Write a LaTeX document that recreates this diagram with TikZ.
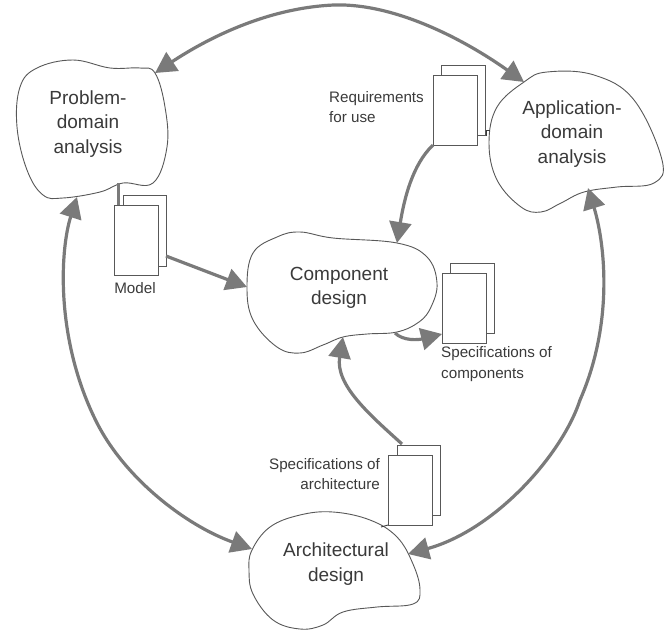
\documentclass[tikz,border=0pt]{standalone}
\usepackage{fontspec}
\setmainfont{Liberation Sans}
\usetikzlibrary{arrows.meta}
\definecolor{ink}{HTML}{3A3A3A}
\definecolor{flow}{HTML}{7A7A7A}
\tikzset{
  blob/.style={draw=ink!85,line width=0.9pt,fill=white},
  sheet/.style={draw=ink!85,line width=0.9pt,fill=white},
  flowline/.style={draw=flow,line width=3.2pt,-{Triangle[length=21pt,width=22pt]}},
  biflow/.style={draw=flow,line width=3.2pt,{Triangle[length=21pt,width=22pt]}-{Triangle[length=21pt,width=22pt]}},
  stub/.style={draw=flow,line width=3pt},
  thinstub/.style={draw=ink,line width=0.9pt},
  big/.style={text=ink,align=center,inner sep=0pt,font=\fontsize{19}{24.5}\selectfont},
  small/.style={text=ink,inner sep=0pt,font=\fontsize{15.2}{20.5}\selectfont}
}
\begin{document}
\begin{tikzpicture}[x=1pt,y=-1pt]
\useasboundingbox (0,0) rectangle (668,634);
% connector ends
\coordinate (pTop) at (155,73);
\coordinate (pBot) at (77,197);
\coordinate (aTop) at (524,82);
\coordinate (aBot) at (588,188);
\coordinate (cTop) at (397,243);
\coordinate (cLeft) at (247,287);
\coordinate (cBot) at (343,337);
\coordinate (cOut) at (395,333);
\coordinate (dLeft) at (252,549);
\coordinate (dRight) at (408,554);
\coordinate (modelOut) at (166,256);
\coordinate (reqOut) at (433,145);
\coordinate (archOut) at (402,444);
\coordinate (compIn) at (442,334);
\coordinate (topMid) at (334,5);
\coordinate (leftMid) at (97,423);
\coordinate (rightMid) at (580,400);
% blobs
\draw[blob] plot[smooth cycle,tension=0.65] coordinates {(155,73)(140,68)(110,68)(73,60)(37,68)(20,87)(17,127)(27,170)(43,195)(63,198)(100,192)(123,183)(153,183)(167,147)(165,107)};
\draw[blob] plot[smooth cycle,tension=0.65] coordinates {(524,82)(547,72)(594,75)(634,100)(662,160)(654,183)(617,187)(584,192)(561,203)(541,212)(521,207)(497,180)(489,143)(497,107)};
\draw[blob] plot[smooth cycle,tension=0.65] coordinates {(247,287)(253,253)(277,237)(300,232)(333,238)(397,243)(427,257)(437,283)(431,307)(419,322)(397,332)(367,334)(343,337)(323,345)(300,353)(277,347)(253,320)};
\draw[blob] plot[smooth cycle,tension=0.65] coordinates {(252,550)(270,527)(300,515)(333,512)(370,520)(397,537)(413,564)(420,590)(413,604)(377,607)(343,612)(323,625)(300,629)(273,620)(253,594)(249,570)};
% stubs
\draw[stub] (118,183) -- (118,206);
\draw[thinstub] (477,135) -- (486,135) -- (486,130) -- (490,130);
\draw[thinstub] (381,527) -- (388,525);
% sheets
\draw[sheet] (123,195) rectangle (166,266);
\draw[sheet] (114,205) rectangle (158,275);
\draw[sheet] (441,65) rectangle (485,135);
\draw[sheet] (433,75) rectangle (477,145);
\draw[sheet] (450,263) rectangle (494,333);
\draw[sheet] (442,273) rectangle (486,343);
\draw[sheet] (397,445) rectangle (440,515);
\draw[sheet] (388,455) rectangle (432,525);
% connectors
\draw[biflow] (pTop) .. controls (205,40) and (265,8) .. (topMid) .. controls (395,3) and (465,40) .. (aTop);
\draw[biflow] (pBot) .. controls (60,250) and (55,340) .. (leftMid) .. controls (125,478) and (185,525) .. (dLeft);
\draw[biflow] (aBot) .. controls (604,240) and (615,320) .. (rightMid) .. controls (562,455) and (495,530) .. (dRight);
\draw[flowline] (reqOut) .. controls (412,165) and (404,200) .. (cTop);
\draw[flowline] (modelOut) -- (cLeft);
\draw[flowline] (cOut) .. controls (403,341) and (418,340) .. (compIn);
\draw[flowline] (archOut) .. controls (370,415) and (335,385) .. (cBot);
% labels
\node[big] (t1) at (88,124) {Problem-\\domain\\analysis};
\node[big] (t2) at (572,134) {Application-\\domain\\analysis};
\node[big] (t3) at (339,288) {Component\\design};
\node[big] (t4) at (336,564) {Architectural\\design};
\node[small,anchor=center] (l1) at (135,288) {Model};
\node[small,align=left,anchor=west] (l2) at (329,107) {Requirements\\for use};
\node[small,align=left,anchor=west] (l3) at (441,364) {Specifications of\\components};
\node[small,align=right,anchor=east] (l4) at (380,474) {Specifications of\\architecture};
\end{tikzpicture}
\end{document}
